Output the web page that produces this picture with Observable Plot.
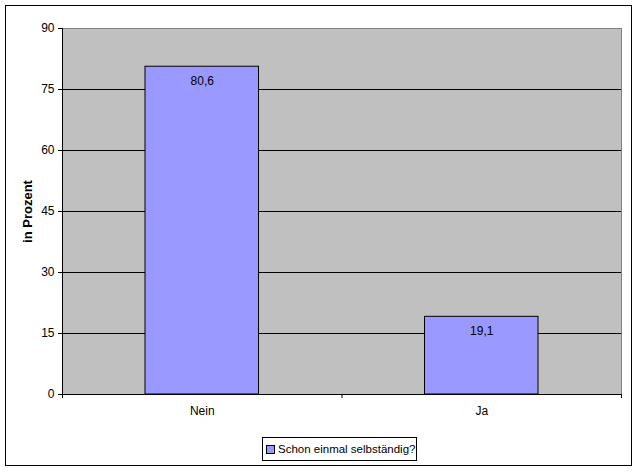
<!DOCTYPE html>
<html>
<head>
<meta charset="utf-8">
<script src="https://cdn.jsdelivr.net/npm/d3@7"></script>
<script src="https://cdn.jsdelivr.net/npm/@observablehq/plot@0.6"></script>
<style>
  html, body { margin: 0; padding: 0; background: #fff; }
  #wrap { position: relative; width: 638px; height: 472px; font-family: "Liberation Sans", Arial, sans-serif; }
  #wrap svg { position: absolute; left: 0; top: 0; }
  #border { position: absolute; left: 5px; top: 5px; width: 625px; height: 459px; border: 1px solid #000; pointer-events: none; }
  #legend { position: absolute; left: 262px; top: 437px; width: 155px; height: 24px; border: 1px solid #000; background: #fff;
            display: flex; align-items: center; font-size: 11.5px; color: #000; box-sizing: border-box; padding-left: 3px;
            white-space: nowrap; overflow: visible; }
  #legend .sw { flex: none; width: 7px; height: 7px; border: 1px solid #000; background: #9999FF; margin-right: 3px; }
  g[aria-label="y-axis label"] text { font-weight: bold; font-size: 13px; }
</style>
</head>
<body>
<div id="wrap">
  <div id="border"></div>
</div>
<script>
const categories = ["Nein", "Ja"];
const values = [80.6, 19.1];
const valueLabels = ["80,6", "19,1"];
const yTicks = [0, 15, 30, 45, 60, 75, 90];
const gridValues = [15, 30, 45, 60, 75];
const seriesName = "Schon einmal selbständig?";
const yLabel = "in Prozent";

const data = categories.map((c, i) => ({ cat: c, i, value: values[i], label: valueLabels[i] }));

const chart = Plot.plot({
  width: 638,
  height: 472,
  marginLeft: 62,
  marginTop: 28,
  marginRight: 17,
  marginBottom: 78,
  style: { fontFamily: "'Liberation Sans', Arial, sans-serif", fontSize: "12px", color: "#000", background: "transparent" },
  x: { type: "linear", domain: [0, categories.length], axis: null, label: null },
  y: { domain: [0, 90], axis: null },
  marks: [
    Plot.frame({ fill: "#C0C0C0", stroke: null }),
    Plot.ruleY([90], { stroke: "#808080" }),
    Plot.ruleX([categories.length], { stroke: "#808080" }),
    Plot.ruleY(gridValues, { stroke: "#000" }),
    Plot.rectY(data, {
      x1: "i", x2: d => d.i + 1, y: "value",
      insetLeft: 83, insetRight: 83,
      fill: "#9999FF", stroke: "#000", strokeWidth: 1
    }),
    Plot.text(data, {
      x: d => d.i + 0.5, y: "value", text: "label",
      dy: 14, fontSize: 12, fill: "#000"
    }),
    Plot.ruleX([0], { stroke: "#000" }),
    Plot.ruleY([0], { stroke: "#000" }),
    Plot.axisY({
      ticks: yTicks, tickSize: 4, tickPadding: 4, fontSize: 12,
      label: yLabel, labelAnchor: "center", labelArrow: "none", labelOffset: 40
    }),
    Plot.axisX({
      ticks: d3.range(categories.length + 1), tickSize: 4, tickFormat: () => "", label: null
    }),
    Plot.axisX({
      ticks: categories.map((c, i) => i + 0.5), tickSize: 0, tickPadding: 12,
      tickFormat: v => categories[Math.floor(v)], fontSize: 12, label: null
    })
  ]
});

const wrap = document.getElementById("wrap");
wrap.insertBefore(chart, wrap.firstChild);

const legend = document.createElement("div");
legend.id = "legend";
const sw = document.createElement("span");
sw.className = "sw";
legend.appendChild(sw);
legend.appendChild(document.createTextNode(seriesName));
wrap.appendChild(legend);
</script>
</body>
</html>
